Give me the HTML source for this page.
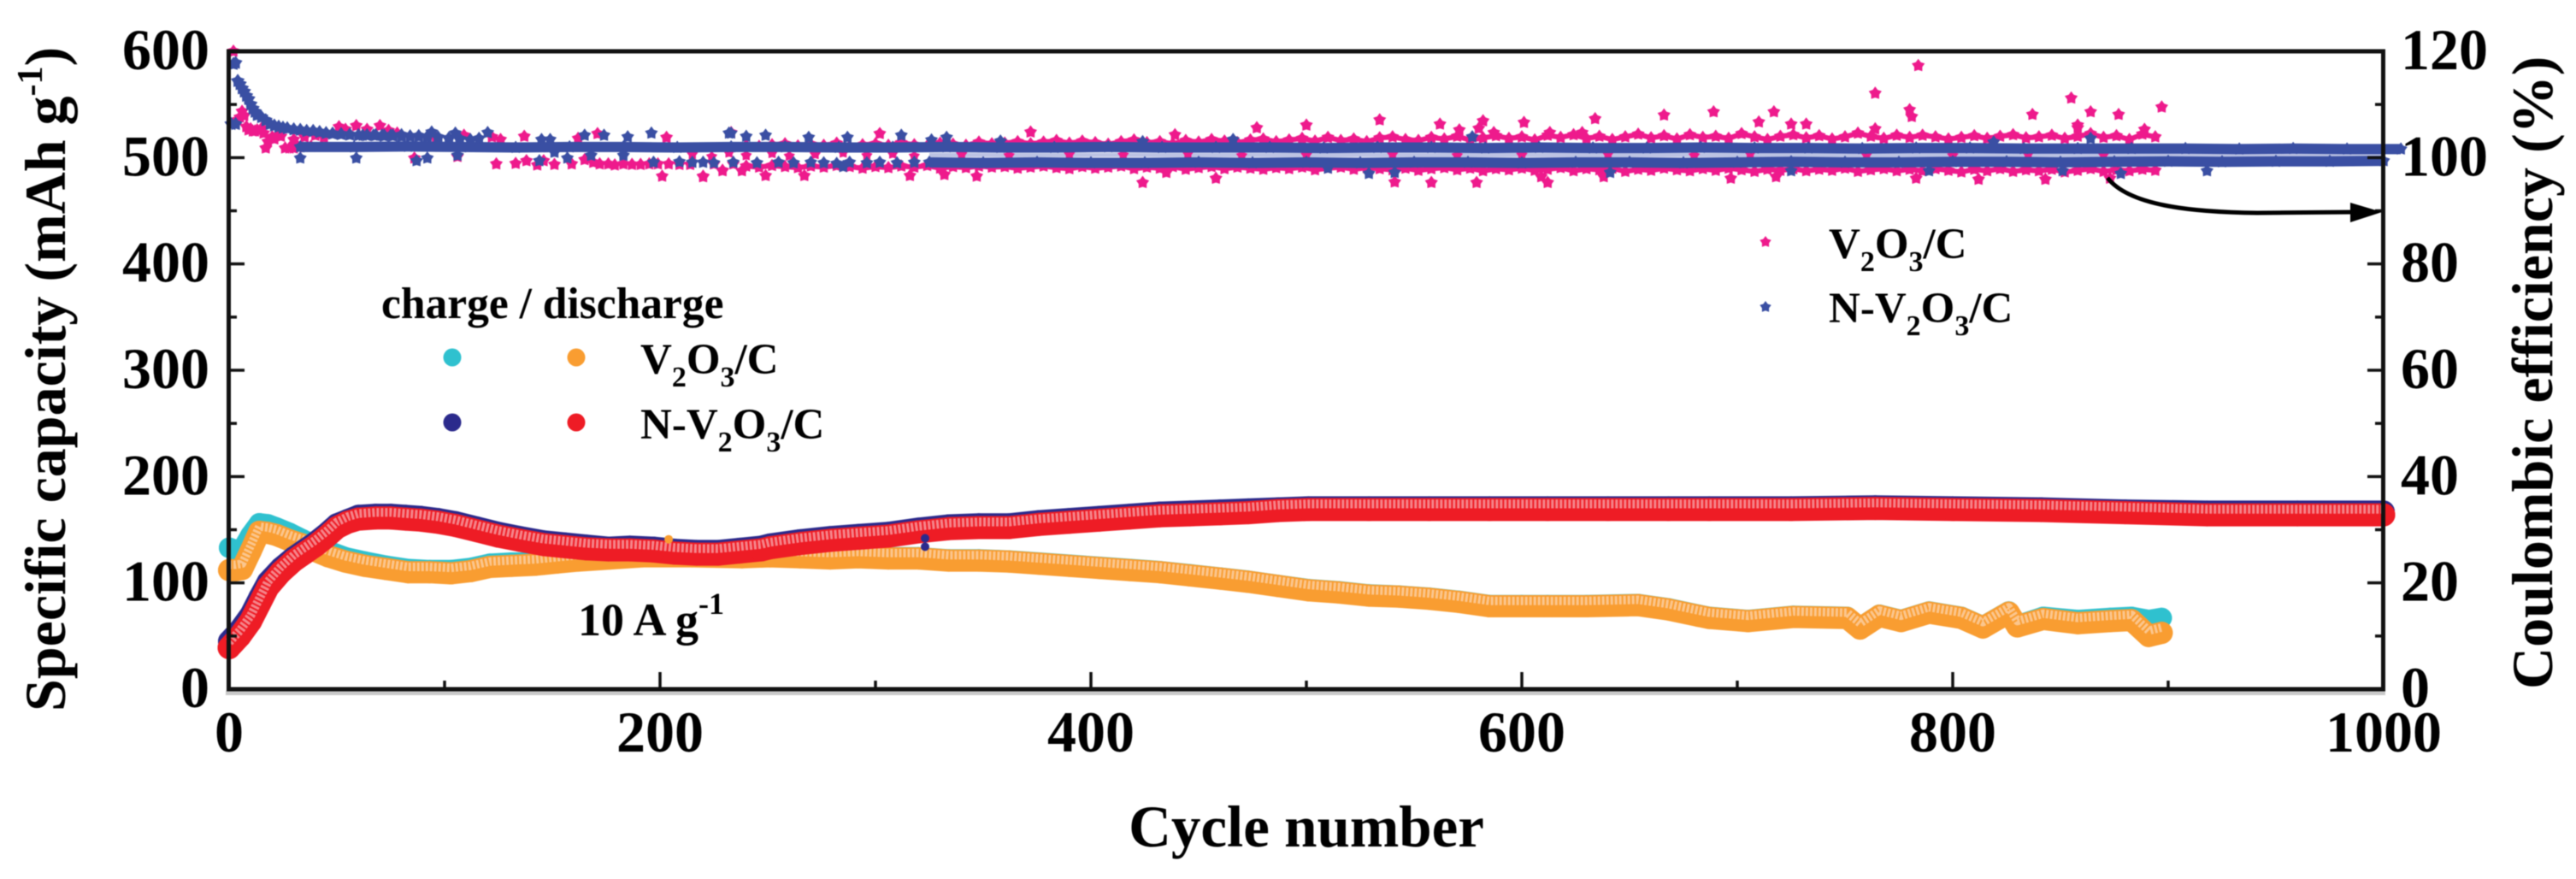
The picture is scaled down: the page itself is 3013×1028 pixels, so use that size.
<!DOCTYPE html>
<html lang="en">
<head>
<meta charset="utf-8">
<title>Specific capacity and Coulombic efficiency vs cycle number</title>
<style>
html,body{margin:0;padding:0;background:#fff;}
svg{display:block;filter:blur(0.6px);}
text{font-family:"Liberation Serif",serif;font-weight:bold;fill:#000;}
</style>
</head>
<body>
<svg id="chart" xmlns="http://www.w3.org/2000/svg" width="3013" height="1028" viewBox="0 0 3013 1028">
  <rect x="0" y="0" width="3013" height="1028" fill="#fff"/>
  <g id="capacity-layer"></g>
  <g id="ce-layer"></g>
  <rect x="264" y="808" width="2526" height="5" fill="#c9c9c9"/>
  <rect x="267.5" y="60" width="2520" height="746" fill="none" stroke="#111" stroke-width="5"/>
  <g id="tick-layer"></g>

  <text transform="translate(76,832) rotate(-90)" font-size="68">Specific capacity (mAh g<tspan font-size="42" dy="-27">-1</tspan><tspan dy="27">)</tspan></text>
  <text transform="translate(2985,806) rotate(-90)" font-size="68">Coulombic efficiency (%)</text>
  <text x="1528" y="990" font-size="69" text-anchor="middle">Cycle number</text>

  <g>
    <text x="446" y="372" font-size="51.5">charge / discharge</text>
    <circle cx="529" cy="418" r="10.5" fill="#2fc1cf"/>
    <circle cx="674" cy="418" r="10.5" fill="#f99d31"/>
    <circle cx="529" cy="494" r="10.5" fill="#2b2a8c"/>
    <circle cx="674" cy="494" r="10.5" fill="#ee1c25"/>
    <text x="749" y="437" font-size="51">V<tspan font-size="34" dy="15">2</tspan><tspan dy="-15">O</tspan><tspan font-size="34" dy="15">3</tspan><tspan dy="-15">/C</tspan></text>
    <text x="749" y="513" font-size="51">N-V<tspan font-size="34" dy="15">2</tspan><tspan dy="-15">O</tspan><tspan font-size="34" dy="15">3</tspan><tspan dy="-15">/C</tspan></text>
  </g>

  <text x="676" y="743" font-size="54">10 A g<tspan font-size="36" dy="-25">-1</tspan></text>

  <g>
    <polygon id="legend-star-pink" fill="#ee1a8c"/>
    <polygon id="legend-star-blue" fill="#3a4fa3"/>
    <text x="2139" y="302" font-size="51">V<tspan font-size="34" dy="15">2</tspan><tspan dy="-15">O</tspan><tspan font-size="34" dy="15">3</tspan><tspan dy="-15">/C</tspan></text>
    <text x="2139" y="377" font-size="51">N-V<tspan font-size="34" dy="15">2</tspan><tspan dy="-15">O</tspan><tspan font-size="34" dy="15">3</tspan><tspan dy="-15">/C</tspan></text>
  </g>

  <g>
    <path d="M2465,208 C2490,240 2560,248 2640,249 L2755,248" fill="none" stroke="#000" stroke-width="5"/>
    <polygon points="2749,237 2786,248 2749,260" fill="#000"/>
  </g>
</svg>

<script>
// ---- axis tick arrays ----
const xMajorTicks = [0, 200, 400, 600, 800, 1000];
const xMinorTicks = [100, 300, 500, 700, 900];
const capMajorTicks = [0, 100, 200, 300, 400, 500, 600];
const capMinorTicks = [50, 150, 250, 350, 450, 550];
const ceMajorTicks = [0, 20, 40, 60, 80, 100, 120];
const ceMinorTicks = [10, 30, 50, 70, 90, 110];

// ---- capacity series (mAh/g) ----
const v2o3Cycles = [0,3,6,10,14,18,22,28,34,40,46,54,63,73,83,93,103,112,121,131,142,152,162,177,192,215,238,251,265,279,292,306,320,334,348,362,376,390,404,418,432,446,460,473,487,501,515,529,543,557,571,585,600,612,630,654,668,682,687,705,726,751,757,766,776,789,804,814,826,830,842,858,873,883,891,897];
const v2o3Charge = [133,131,131,145,156,155,152,147,141,135,130,124,120,116,113,112,112,114,118,119,119,121,122,124,126,126,126,126,125,124,125,124,124,122,122,121,119,117,115,113,111,108,105,102,98,94,92,89,88,86,83,79,79,79,79,80,76,70,68,65,69,68,58,70,65,73,68,59,73,60,68,65,67,68,65,67];
const v2o3Discharge = [112,112,113,130,148,147,145,140,136,130,125,120,116,113,110,110,109,111,115,116,117,119,121,123,125,125,124,125,124,123,124,123,123,121,121,120,118,116,114,112,110,107,104,101,97,93,91,88,87,85,82,78,78,78,78,79,75,69,67,64,68,67,57,69,64,72,67,58,72,59,66,62,64,65,50,53];
const nCycles = [0,5,10,14,18,24,30,35,40,45,50,55,60,68,75,82,89,97,105,115,125,135,146,156,166,176,186,197,207,217,227,237,247,251,265,279,292,306,320,334,348,362,376,390,404,418,432,446,460,473,487,501,529,557,585,612,640,668,687,725,764,800,841,880,918,960,1000];
const nCharge = [45,56,70,86,101,114,124,131,138,146,155,159,163,164,164,163,162,160,157,152,147,143,139,137,135,133,134,133,131,130,130,132,134,136,140,143,145,147,151,154,155,155,158,160,162,164,166,167,168,169,170,171,171,171,171,171,171,171,171,171,172,171,170,168,167,167,167];
const nDischarge = [39,50,64,80,96,110,121,128,135,143,152,157,160,161,161,160,159,157,154,149,144,140,136,134,132,131,131,130,128,127,127,129,131,133,137,140,142,144,148,151,152,152,155,157,159,161,163,164,165,166,168,169,169,169,169,169,169,169,169,169,170,169,168,166,164,164,164];
const nChargeDipCycles = [323, 323];
const nChargeDipValues = [134, 142];
const v2o3BumpCycles = [204];
const v2o3BumpValues = [141];

// ---- Coulombic efficiency (%) ----
const ceNUpperStart = 33;
const ceNUpperStep = 25;
const ceNUpper = [102.0,102.0,102.1,102.0,101.9,102.0,102.0,101.9,102.0,102.0,101.9,101.9,102.0,101.9,101.9,102.0,101.9,101.9,101.9,101.8,101.9,101.9,101.8,101.9,101.8,101.8,101.9,101.8,101.8,101.7,101.8,101.8,101.7,101.7,101.7,101.7,101.6,101.7,101.6,101.6];
const ceNLowerStart = 325;
const ceNLowerStep = 25;
const ceNLower = [99.1,99.0,99.1,99.0,99.0,99.1,99.0,99.1,99.0,99.1,99.1,99.0,99.1,99.1,99.0,99.1,99.2,99.1,99.1,99.2,99.2,99.1,99.2,99.3,99.2,99.3,99.3,99.4];
const ceNMidCycles = [325,450,575,700,825,950,1000];
const ceNMid = [100.5,100.5,100.5,100.5,100.5,100.5,100.5];
const ceNEarlyCycles = [1,2,3,3,4,5,6,7,8,9,10,11,12,13,15,17,19,21,23,25,27,30,33,36,39,42,45,48,52,56,60,64,68,72,76,80,84,88,92,97,102,107,112];
const ceNEarly = [106.3,117.6,117.8,106.3,114.4,113.8,113.0,112.4,111.6,111.0,110.0,109.2,108.6,108.0,107.6,107.0,106.3,106.0,105.8,105.6,105.5,105.3,105.2,105.0,105.0,104.8,104.6,104.5,104.4,104.3,104.2,104.2,104.2,104.1,104.1,104.0,104.0,104.0,103.9,103.8,103.6,103.5,103.3];
const ceNLowerEarlyCycles = [197,209,215,220,225,234,245,255,262,270,276,282,288,296,302,310,318];
const ceNLowerEarly = [99.1,99.2,99.1,99.1,99.0,99.1,99.0,99.1,99.0,99.1,99.0,98.9,99.1,99.0,99.1,99.0,99.1];
const ceNOutlierCycles = [62,67,71,75,80,88,94,105,116,120,145,149,165,174,185,196,232,233,240,249,269,287,312,326,333,358,424,466,577,864,819,33,59,87,92,106,151,144,157,168,183,285,529,541,510,641,725,851,878,918,789];
const ceNOutliers = [104.2,104.2,104.2,104.2,104.3,104.1,104.8,104.6,103.6,104.7,103.4,103.4,104.2,104.2,103.9,104.6,104.6,104.6,104.0,104.2,103.8,103.8,104.2,103.3,103.8,103.1,103.0,103.4,103.9,103.6,102.9,99.9,99.9,99.4,99.9,100.4,101.0,99.4,99.9,100.4,100.4,98.3,97.0,97.2,98.0,97.2,97.5,97.5,97.0,97.5,97.5];

const cePinkEarlyCycles = [2,4,5,6,7,8,9,10,11,12,13,15,16,17,18,20,21,23,24,26,28,30,30,32,35,38,40,44,51,54,59,64,70,74,78,86,96,106,109,122,126,137,162,171,203,233];
const cePinkEarly = [120,107.1,107.6,108.7,107.9,105.8,105.2,105.4,105.0,105.0,105.2,105.5,104.6,101.8,103.0,103.9,103.5,104.2,104.0,101.8,101.8,101.8,103.4,102.0,103.9,102.1,104.2,103.8,105.8,105.3,106.0,105.3,106.0,105.1,104.6,99.9,103.6,100.2,104.2,103.9,103.4,104.0,103.6,104.5,103.8,104.7];
const cePinkLowEarlyCycles = [124,133,138,143,146,151,159,165,169,172,176,179,183,187,191,195,199,201,204,209,214,220,225,229,234];
const cePinkLowEarly = [98.8,98.9,99.4,98.6,99.4,98.7,98.8,99.6,99.1,98.8,98.8,98.6,98.8,98.7,98.7,98.8,98.8,96.5,98.8,98.7,98.7,96.5,98.8,97.6,98.8];
const cePinkRowStart = 240;
const cePinkRowStep = 6;
const cePinkUpper = [102.3,102.1,102.4,102.6,102.2,102.5,102.3,102.7,102.1,102.4,
102.6,102.3,102.8,102.4,102.2,102.7,102.5,102.3,102.9,102.6,
102.7,103.0,102.6,102.9,103.2,102.7,103.1,102.8,102.5,103.0,
103.3,102.8,103.0,102.6,103.2,102.9,103.4,103.1,102.8,103.3,
103.5,103.0,103.3,103.6,103.1,103.8,103.2,103.5,103.0,103.7,
103.9,103.4,103.2,103.8,103.5,104.0,103.3,103.7,104.1,103.6,
103.9,103.3,104.2,103.8,104.3,103.6,104.0,103.4,103.9,104.4,
103.7,104.1,103.5,104.3,103.8,104.0,103.6,104.5,103.9,103.4,
104.0,104.3,103.7,104.1,103.5,103.9,104.6,104.0,103.6,104.2,
103.8,104.2,103.9,103.5,103.8,104.1,103.6,104.0,104.3,103.7,
103.9,104.2,103.6,104.0,104.5,103.8,104.1,103.4,104.4,103.9];
const cePinkLower = [98.4,98.2,98.5,98.3,98.1,98.4,98.2,98.5,98.3,98.0,
98.3,98.1,98.4,98.2,98.5,98.0,98.3,98.1,98.4,98.2,
98.3,98.0,98.2,98.4,98.1,97.9,98.3,98.0,98.2,98.4,
97.9,98.2,98.0,98.3,97.8,98.1,98.3,97.9,98.2,98.0,
97.8,98.1,97.9,98.2,97.7,98.0,98.2,97.8,98.1,97.9,
97.7,98.0,97.6,97.9,98.1,97.7,98.0,97.5,97.9,97.7,
98.0,97.6,97.8,98.1,97.5,97.9,97.7,98.0,97.4,97.8,
97.6,98.0,97.7,97.5,97.9,97.6,98.0,97.7,97.4,97.8,
97.6,97.9,97.5,97.8,97.6,98.0,97.4,97.7,97.9,97.5,
97.8,97.5,97.9,97.6,97.3,97.8,97.5,97.9,97.4,97.7,
97.5,97.8,97.3,97.6,97.9,97.4,97.7,97.5,97.8,97.6];
const cePinkOutlierCycles = [220,229,238,249,267,302,316,332,347,372,424,435,439,458,477,500,534,541,558,562,571,579,580,582,587,601,609,612,613,628,634,638,666,689,710,717,725,732,764,764,780,781,784,837,855,858,858,864,877,897,889,697,718,783,812,843,873];
const cePinkOutliers = [96.4,97.5,97.5,96.6,96.6,104.5,96.6,96.8,96.5,104.8,95.3,97.2,104.3,96.1,105.6,106.1,107.1,95.4,95.3,106.3,105.2,95.3,105.5,106.9,104.7,106.6,96.4,95.3,104.7,104.7,107.3,96.4,108.0,108.6,106.7,108.6,106.3,106.3,105.4,112.1,109.0,107.7,117.3,108.1,111.2,106.1,105.6,108.6,108.1,109.5,105.3,96.1,96.4,96.1,95.9,95.9,96.1];
const cePinkMidCycles = [215,224,232,240,252,260,272,285,296,308,318,340,362,390,415,445,470,500,540,570,600,640,680,706,760,800,835,870];
const cePinkMid = [100.6,100.2,100.9,100.4,100.8,100.3,100.6,100.9,100.4,100.7,100.3,100.6,100.4,100.6,100.5,100.7,100.4,100.5,100.6,100.4,100.5,100.6,100.4,100.7,100.5,100.4,100.6,100.5];

// ---- axis functions ----
function xScale(cycle) { return 268 + cycle * 2.52; }
function capScale(value) { return 806 - value * 1.2433; }
function ceScale(value) { return 806 - value * 6.2167; }

const SVG_NS = 'http://www.w3.org/2000/svg';
function make(tag, parent) {
  const el = document.createElementNS(SVG_NS, tag);
  parent.appendChild(el);
  return el;
}
function starPoints(cx, cy, r) {
  const pts = [];
  for (let i = 0; i < 10; i++) {
    const rad = i % 2 === 0 ? r : r * 0.62;
    const ang = -Math.PI / 2 + i * Math.PI / 5;
    pts.push((cx + rad * Math.cos(ang)).toFixed(1) + ',' + (cy + rad * Math.sin(ang)).toFixed(1));
  }
  return pts.join(' ');
}

const capLayer = document.getElementById('capacity-layer');
const ceLayer = document.getElementById('ce-layer');
const tickLayer = document.getElementById('tick-layer');

function drawBand(cycles, values, color, light, width, name) {
  const group = make('g', capLayer);
  
  
  const points = cycles.map((c, i) => xScale(c).toFixed(1) + ',' + capScale(values[i]).toFixed(1));
  const line = make('polyline', group);
  
  
  line.setAttribute('points', points.join(' '));
  line.setAttribute('fill', 'none');
  line.setAttribute('stroke', color);
  line.setAttribute('stroke-width', width);
  line.setAttribute('stroke-linejoin', 'round');
  line.setAttribute('stroke-linecap', 'round');
  cycles.forEach((c, i) => {
    const dot = make('circle', group);
    
    
    dot.setAttribute('cx', xScale(c).toFixed(1));
    dot.setAttribute('cy', capScale(values[i]).toFixed(1));
    dot.setAttribute('r', width / 2);
    dot.setAttribute('fill', color);
  });
  if (light) {
    const shine = make('polyline', group);
    
    
    shine.setAttribute('points', cycles.map((c, i) => xScale(c).toFixed(1) + ',' + (capScale(values[i]) - width * 0.24).toFixed(1)).join(' '));
    shine.setAttribute('fill', 'none');
    shine.setAttribute('stroke', light);
    shine.setAttribute('stroke-width', width * 0.38);
    shine.setAttribute('stroke-dasharray', '3 2');
    shine.setAttribute('stroke-linejoin', 'round');
  }
}

function drawDots(cycles, values, color, r, name) {
  cycles.forEach((c, i) => {
    const dot = make('circle', capLayer);
    
    
    dot.setAttribute('cx', xScale(c).toFixed(1));
    dot.setAttribute('cy', capScale(values[i]).toFixed(1));
    dot.setAttribute('r', r);
    dot.setAttribute('fill', color);
  });
}

drawBand(v2o3Cycles, v2o3Charge, '#2fc1cf', null, 24, 'v2o3-charge');
drawBand(v2o3Cycles, v2o3Discharge, '#f99d31', '#fbc68e', 26, 'v2o3-discharge');
drawBand(nCycles, nCharge, '#2b2a8c', null, 26, 'n-v2o3-charge');
drawBand(nCycles, nDischarge, '#ee1c25', '#f5858b', 27, 'n-v2o3-discharge');
drawDots(v2o3BumpCycles, v2o3BumpValues, '#f99d31', 5, 'v2o3-discharge-bump');
drawDots(nChargeDipCycles, nChargeDipValues, '#2b2a8c', 5, 'n-v2o3-charge-dip');

function drawStars(cycles, values, color, r, name) {
  cycles.forEach((c, i) => {
    const star = make('polygon', ceLayer);
    
    
    star.setAttribute('points', starPoints(xScale(c), ceScale(values[i]), r));
    star.setAttribute('fill', color);
  });
}
function drawRow(cycles, values, color, width, name) {
  const row = make('polyline', ceLayer);
  
  
  row.setAttribute('points', cycles.map((c, i) => xScale(c).toFixed(1) + ',' + ceScale(values[i]).toFixed(1)).join(' '));
  row.setAttribute('fill', 'none');
  row.setAttribute('stroke', color);
  row.setAttribute('stroke-width', width);
}

const PINK = '#ee1a8c';
const BLUE = '#3a4fa3';
const rowCycles = (start, step, values) => values.map((v, i) => start + i * step);

const pinkRowCycles = rowCycles(cePinkRowStart, cePinkRowStep, cePinkUpper);
const pinkRowCycles2 = rowCycles(cePinkRowStart, cePinkRowStep, cePinkLower);
drawRow(ceNMidCycles, ceNMid, '#bcc3e3', 5, 'n-v2o3-efficiency-gap-row');
drawRow(pinkRowCycles, cePinkUpper, PINK, 6, 'v2o3-efficiency-upper-row');
drawRow(pinkRowCycles2, cePinkLower, PINK, 6, 'v2o3-efficiency-lower-row');
drawStars(cePinkEarlyCycles, cePinkEarly, PINK, 8, 'v2o3-efficiency-point');
drawStars(cePinkLowEarlyCycles, cePinkLowEarly, PINK, 8, 'v2o3-efficiency-point');
drawStars(pinkRowCycles, cePinkUpper, PINK, 8, 'v2o3-efficiency-point');
drawStars(pinkRowCycles2, cePinkLower, PINK, 8, 'v2o3-efficiency-point');
drawStars(cePinkMidCycles, cePinkMid, PINK, 7, 'v2o3-efficiency-point');
drawStars(cePinkOutlierCycles, cePinkOutliers, PINK, 8, 'v2o3-efficiency-point');

const nUpperCycles = rowCycles(ceNUpperStart, ceNUpperStep, ceNUpper);
const nLowerCycles = rowCycles(ceNLowerStart, ceNLowerStep, ceNLower);
drawRow(nUpperCycles, ceNUpper, BLUE, 12, 'n-v2o3-efficiency-upper-row');
drawRow(nLowerCycles, ceNLower, BLUE, 12, 'n-v2o3-efficiency-lower-row');
drawStars(nUpperCycles, ceNUpper, BLUE, 8, 'n-v2o3-efficiency-point');
drawStars(nLowerCycles, ceNLower, BLUE, 8, 'n-v2o3-efficiency-point');
drawStars(ceNEarlyCycles, ceNEarly, BLUE, 8.5, 'n-v2o3-efficiency-point');
drawStars(ceNLowerEarlyCycles, ceNLowerEarly, BLUE, 8, 'n-v2o3-efficiency-point');
drawStars(ceNOutlierCycles, ceNOutliers, BLUE, 8, 'n-v2o3-efficiency-point');

document.getElementById('legend-star-pink').setAttribute('points', starPoints(2065, 283, 7));
document.getElementById('legend-star-blue').setAttribute('points', starPoints(2065, 359, 7));

// ---- ticks & tick labels ----
function tick(x1, y1, x2, y2, name) {
  const t = make('line', tickLayer);
  
  
  t.setAttribute('x1', x1);
  t.setAttribute('y1', y1);
  t.setAttribute('x2', x2);
  t.setAttribute('y2', y2);
  t.setAttribute('stroke', '#111');
  t.setAttribute('stroke-width', 3.5);
}
function label(x, y, str, anchor, name) {
  const t = make('text', tickLayer);
  
  
  t.setAttribute('x', x);
  t.setAttribute('y', y);
  t.setAttribute('text-anchor', anchor);
  t.setAttribute('font-size', 68);
  t.textContent = str;
}
xMajorTicks.forEach(v => {
  tick(xScale(v), 806, xScale(v), 786, 'x-major-tick');
  label(xScale(v), 879, String(v), 'middle', 'x-tick-label');
});
xMinorTicks.forEach(v => tick(xScale(v), 806, xScale(v), 796, 'x-minor-tick'));
capMajorTicks.forEach(v => {
  tick(268, capScale(v), 286, capScale(v), 'left-major-tick');
  label(245, capScale(v) + 21, String(v), 'end', 'left-tick-label');
});
capMinorTicks.forEach(v => tick(268, capScale(v), 277, capScale(v), 'left-minor-tick'));
ceMajorTicks.forEach(v => {
  tick(2788, ceScale(v), 2769, ceScale(v), 'right-major-tick');
  label(2808, ceScale(v) + 21, String(v), 'start', 'right-tick-label');
});
ceMinorTicks.forEach(v => tick(2788, ceScale(v), 2778, ceScale(v), 'right-minor-tick'));
</script>
</body>
</html>
